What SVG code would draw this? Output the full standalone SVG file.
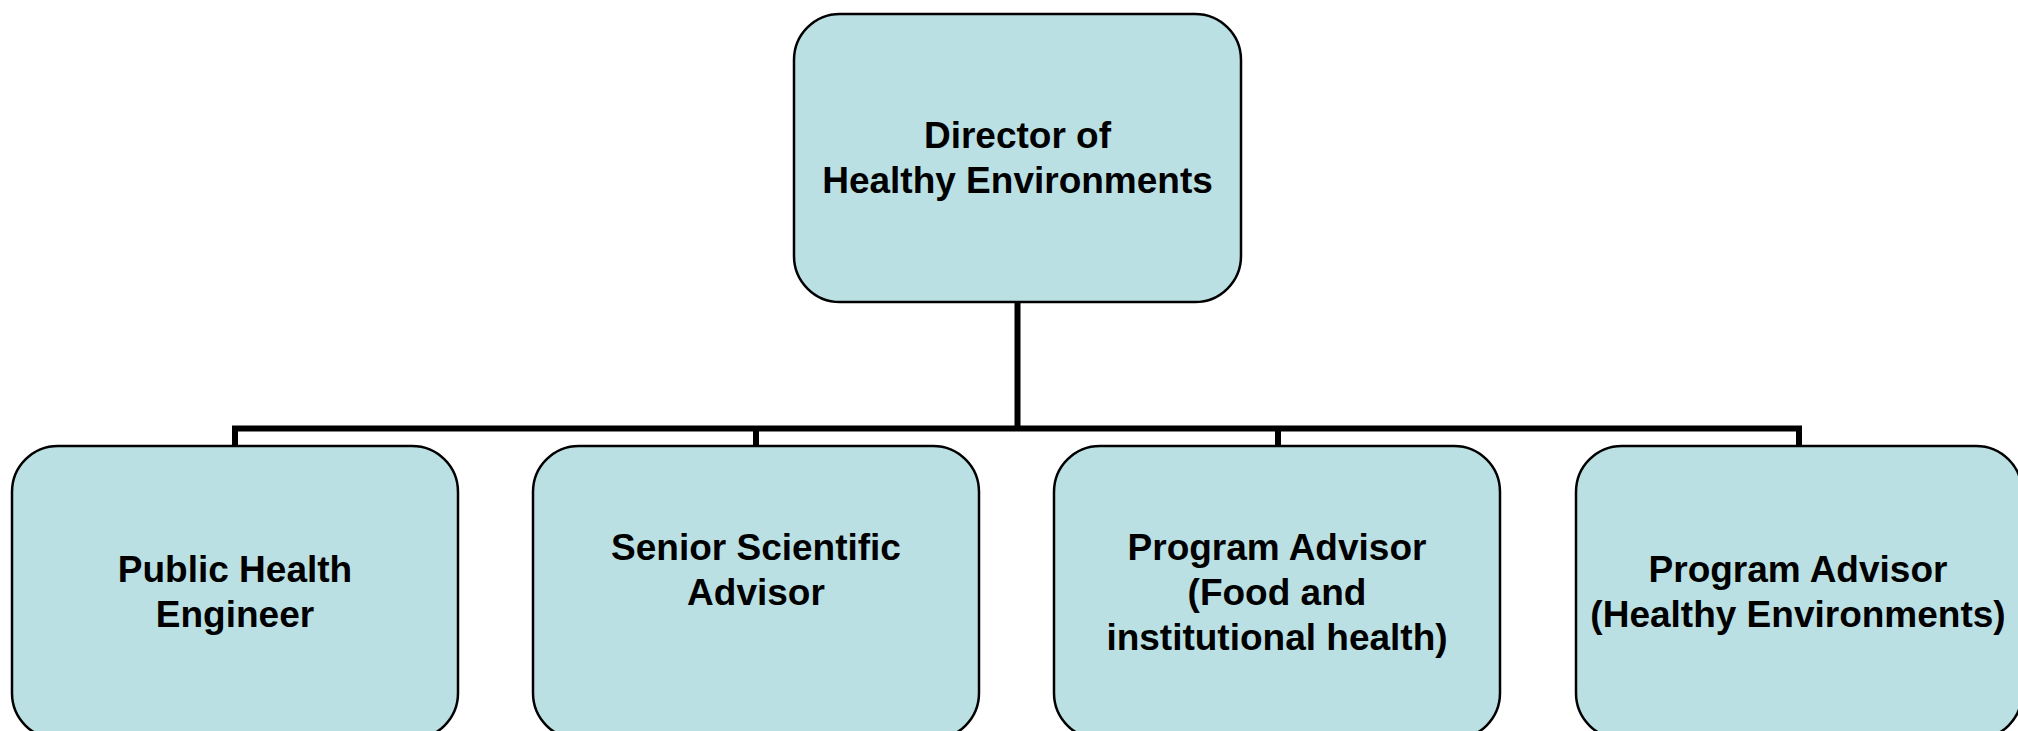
<svg xmlns="http://www.w3.org/2000/svg" width="2018" height="731" viewBox="0 0 2018 731">
<style>
.box{fill:#BAE0E3;stroke:#000;stroke-width:2.5}
.t{font-family:"Liberation Sans",Arial,sans-serif;font-weight:bold;font-size:37px;fill:#000;text-anchor:middle}
.c{fill:none;stroke:#000;stroke-width:6;stroke-linejoin:miter}
</style>
<rect width="2018" height="731" fill="#fff"/>
<g id="connectors">
<line class="c" x1="1017.5" y1="302" x2="1017.5" y2="428.5"/>
<polyline class="c" points="235,446 235,428.5 1799,428.5 1799,446"/>
<line class="c" x1="756" y1="428.5" x2="756" y2="446"/>
<line class="c" x1="1278" y1="428.5" x2="1278" y2="446"/>
</g>
<g id="director">
<rect class="box" x="794" y="14" width="447" height="288" rx="46" ry="46"/>
<text class="t" x="1017.5" y="148">Director of</text>
<text class="t" x="1017.5" y="193">Healthy Environments</text>
</g>
<g id="engineer">
<rect class="box" x="12" y="446" width="446" height="293" rx="46" ry="46"/>
<text class="t" x="235" y="582">Public Health</text>
<text class="t" x="235" y="627">Engineer</text>
</g>
<g id="scientific">
<rect class="box" x="533" y="446" width="446" height="293" rx="46" ry="46"/>
<text class="t" x="756" y="560">Senior Scientific</text>
<text class="t" x="756" y="605">Advisor</text>
</g>
<g id="food">
<rect class="box" x="1054" y="446" width="446" height="293" rx="46" ry="46"/>
<text class="t" x="1277" y="560">Program Advisor</text>
<text class="t" x="1277" y="605">(Food and</text>
<text class="t" x="1277" y="650">institutional health)</text>
</g>
<g id="healthy">
<rect class="box" x="1576" y="446" width="446" height="293" rx="46" ry="46"/>
<text class="t" x="1798" y="582">Program Advisor</text>
<text class="t" x="1798" y="627">(Healthy Environments)</text>
</g>
</svg>
